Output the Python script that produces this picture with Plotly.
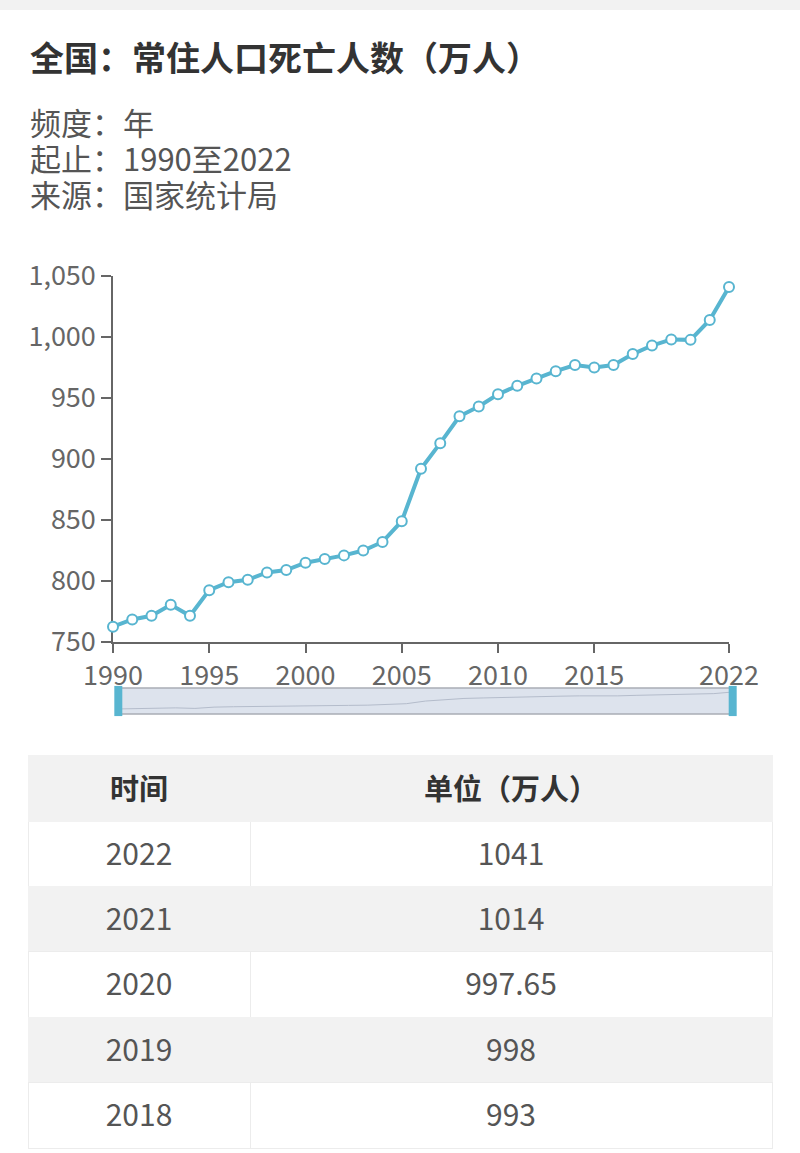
import plotly.graph_objects as go

# 全国常住人口死亡人数（万人），国家统计局
years = list(range(1990, 2023))
deaths = [762.5, 768.5, 771.5, 780.5, 771.5, 792.5, 799, 801, 807, 809,
          815, 818, 821, 825, 832, 849, 892, 913, 935, 943,
          953, 960, 966, 972, 977, 975, 977, 986, 993, 998,
          997.65, 1014, 1041]

x_ticks = [1990, 1995, 2000, 2005, 2010, 2015, 2022]
y_ticks = [750, 800, 850, 900, 950, 1000, 1050]

# 表格（最近五年）
table_header = ['时间', '单位（万人）']
table_years = ['2022', '2021', '2020', '2019', '2018']
table_values = ['1041', '1014', '997.65', '998', '993']

title = '全国：常住人口死亡人数（万人）'
info_lines = ['频度：年', '起止：1990至2022', '来源：国家统计局']

blue = '#58b5d0'
font_cn = 'Noto Sans CJK SC'
W = 800
H = 1165   # 比窗口略高，超出部分被裁掉


def py(px):
    # 像素 -> paper 坐标
    return 1 - px / H


fig = go.Figure()

# 主折线
fig.add_trace(go.Scatter(
    x=years, y=deaths, mode='lines+markers', cliponaxis=False,
    line=dict(color=blue, width=4),
    marker=dict(size=10, color='white', line=dict(color=blue, width=2)),
    xaxis='x', yaxis='y', showlegend=False, hoverinfo='x+y'))

# 缩略图（dataZoom 样式）
fig.add_trace(go.Scatter(
    x=years, y=deaths, mode='lines',
    line=dict(color='#b4bccb', width=1),
    xaxis='x2', yaxis='y2', showlegend=False, hoverinfo='skip'))

# 表格：底色层
n = len(table_years)
row_fill = ['white' if i % 2 == 0 else '#f2f2f2' for i in range(n)]
row_line = ['#ececec' if i % 2 == 0 else '#f2f2f2' for i in range(n)]
tbl_x = [28 / W, 772 / W]
row_h = 65.4
fig.add_trace(go.Table(
    domain=dict(x=tbl_x, y=[py(1150), py(755)]),
    columnwidth=[222, 522],
    header=dict(values=['', ''], fill_color='#f2f2f2', line_color='#f2f2f2', height=66),
    cells=dict(values=[[''] * n, [''] * n],
               fill_color=[row_fill, row_fill],
               line_color=[row_line, row_line], height=row_h)))

# 表格：文字层（错位以便文字垂直居中）
fig.add_trace(go.Table(
    domain=dict(x=tbl_x, y=[0, py(758)]),
    columnwidth=[222, 522],
    header=dict(values=['<b>' + h + '</b>' for h in table_header],
                fill_color='rgba(0,0,0,0)', line_color='rgba(0,0,0,0)',
                font=dict(family=font_cn, size=29, color='#333333'),
                align='center', height=76),
    cells=dict(values=[table_years, table_values],
               fill_color='rgba(0,0,0,0)', line_color='rgba(0,0,0,0)',
               font=dict(family=font_cn, size=30, color='#555555'),
               align='center', height=row_h)))

axis_font = dict(family=font_cn, size=27, color='#666666')

# 说明文字：三行合为一段，行距 36px，字号 31px
info_text = '<br>'.join('<span style="font-size:31px">' + s + '</span>' for s in info_lines)

fig.update_layout(
    width=W, height=H,
    margin=dict(l=0, r=0, t=0, b=0),
    paper_bgcolor='white', plot_bgcolor='rgba(0,0,0,0)',
    xaxis=dict(domain=[113 / W, 729 / W], range=[1990, 2022], automargin=False,
               tickvals=x_ticks, ticks='outside', ticklen=9, tickwidth=1.5,
               tickcolor='#666666', showline=True, linecolor='#666666', linewidth=1.5,
               showgrid=False, zeroline=False, tickfont=axis_font, anchor='y',
               layer='below traces'),
    yaxis=dict(domain=[py(642), py(276)], range=[750, 1050], automargin=False,
               tickvals=y_ticks, tickformat=',', ticks='outside', ticklen=10, tickwidth=1.5,
               tickcolor='#666666', showline=True, linecolor='#666666', linewidth=1.5,
               showgrid=False, zeroline=False, tickfont=axis_font, anchor='x',
               layer='below traces'),
    xaxis2=dict(domain=[118 / W, 733 / W], range=[1990, 2022], visible=False,
                automargin=False, anchor='y2', fixedrange=True),
    yaxis2=dict(domain=[py(714), py(688)], range=[680, 1106], visible=False,
                automargin=False, anchor='x2', fixedrange=True),
    shapes=[
        # 顶部灰条
        dict(type='rect', xref='paper', yref='paper', x0=0, x1=1, y0=py(10), y1=1,
             fillcolor='#f2f2f2', line_width=0, layer='below'),
        # 缩略图背景
        dict(type='rect', xref='x2 domain', yref='y2 domain', x0=0, x1=1, y0=0, y1=1,
             fillcolor='#dde3ed', line=dict(color='#a9adb5', width=1.5), layer='below'),
        # 左右手柄
        dict(type='rect', xref='x2 domain', yref='y2 domain', x0=-0.006, x1=0.007,
             y0=-0.08, y1=1.08, fillcolor=blue, line_width=0),
        dict(type='rect', xref='x2 domain', yref='y2 domain', x0=0.993, x1=1.006,
             y0=-0.08, y1=1.08, fillcolor=blue, line_width=0),
    ],
    annotations=[
        dict(text='<b>' + title + '</b>', xref='paper', yref='paper',
             x=28 / W, y=py(56), xanchor='left', yanchor='middle', showarrow=False,
             font=dict(family=font_cn, size=34, color='#333333')),
        dict(text=info_text, xref='paper', yref='paper', align='left',
             x=28 / W, y=py(157), xanchor='left', yanchor='middle', showarrow=False,
             font=dict(family=font_cn, size=27.7, color='#555555')),
    ],
)

# 去掉页面默认边距
fig.write_html('out.html', config={'displayModeBar': False},
               post_script="document.body.style.margin='0';"
                           "document.body.style.overflow='hidden';")
